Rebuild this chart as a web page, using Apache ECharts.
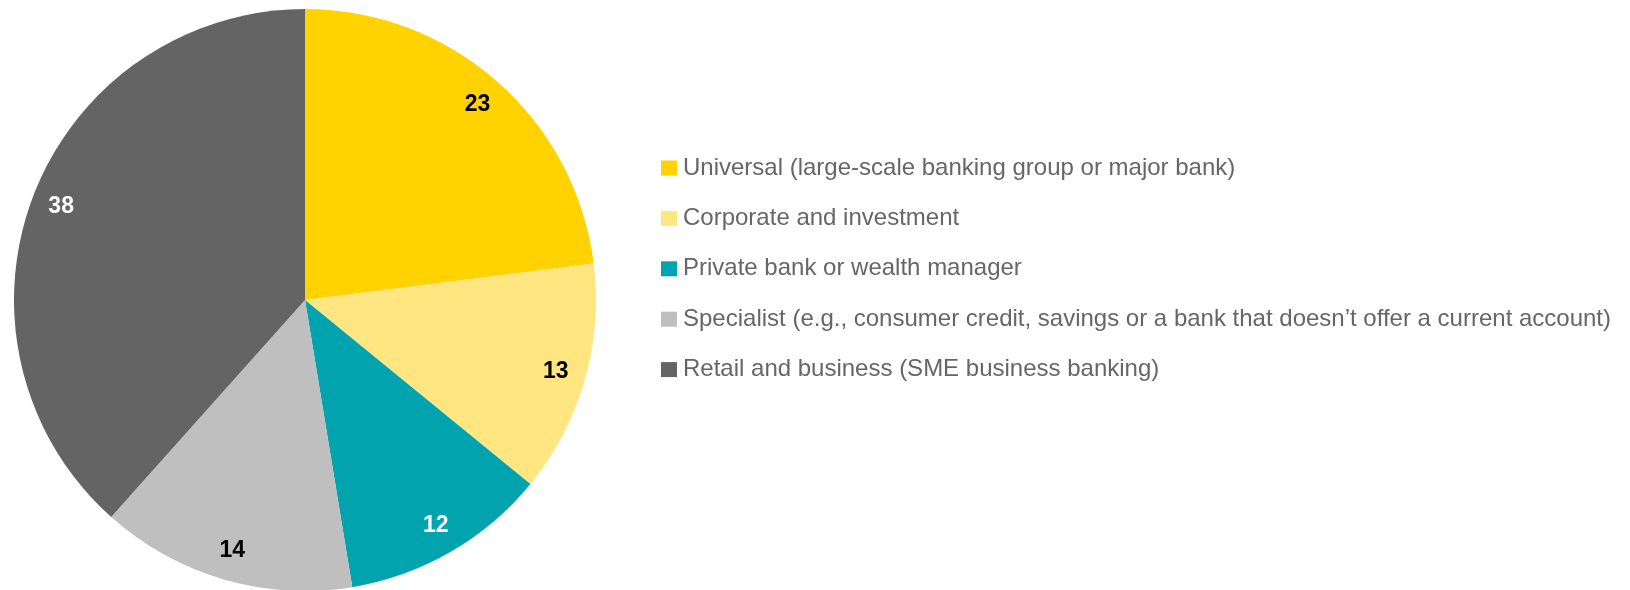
<!DOCTYPE html>
<html>
<head>
<meta charset="utf-8">
<script src="https://cdn.jsdelivr.net/npm/echarts@6/dist/echarts.min.js"></script>
<style>
  html, body { margin: 0; padding: 0; background: #fff; }
  #chart { width: 1630px; height: 590px; }
</style>
</head>
<body>
<div id="chart"></div>
<script>
const categories = [
  "Universal (large-scale banking group or major bank)",
  "Corporate and investment",
  "Private bank or wealth manager",
  "Specialist (e.g., consumer credit, savings or a bank that doesn\u2019t offer a current account)",
  "Retail and business (SME business banking)"
];
// slice sizes; labels show them rounded
const values = [23, 12.9, 11.5, 14.2, 38.4];
const colors = ["#FFD200", "#FFE680", "#00A3AE", "#BFBFBF", "#646464"];
const labelColors = ["#000", "#000", "#fff", "#000", "#fff"];

const chart = echarts.init(document.getElementById("chart"));

const center = [305, 300];
const font = "Liberation Sans, Arial, sans-serif";

chart.setOption({
  backgroundColor: "#fff",
  animation: false,
  color: colors,
  legend: {
    orient: "vertical",
    left: 656,
    top: 151,
    itemWidth: 16,
    itemHeight: 15,
    itemGap: 26.4,
    icon: "rect",
    selectedMode: false,
    textStyle: {
      fontFamily: font,
      fontSize: 24,
      lineHeight: 24,
      color: "#666666",
      padding: [0, 0, 0, 1]
    },
    data: categories
  },
  series: [
    {
      name: "main",
      type: "pie",
      center: center,
      radius: [0, 291],
      startAngle: 90,
      clockwise: true,
      silent: true,
      label: { show: false },
      labelLine: { show: false },
      itemStyle: { borderWidth: 0 },
      data: categories.map((name, i) => ({ name, value: values[i] }))
    },
    {
      // invisible ring, only used to place the value labels near the rim
      name: "labels",
      type: "pie",
      center: center,
      radius: [225, 291],
      startAngle: 90,
      clockwise: true,
      silent: true,
      legendHoverLink: false,
      itemStyle: { color: "transparent", borderWidth: 0 },
      labelLine: { show: false },
      data: categories.map((name, i) => ({
        name: name + " ",
        value: values[i],
        label: {
          show: true,
          position: "inside",
          formatter: String(Math.round(values[i])),
          color: labelColors[i],
          fontFamily: font,
          fontWeight: "bold",
          fontSize: 23
        }
      }))
    }
  ]
});
</script>
</body>
</html>
